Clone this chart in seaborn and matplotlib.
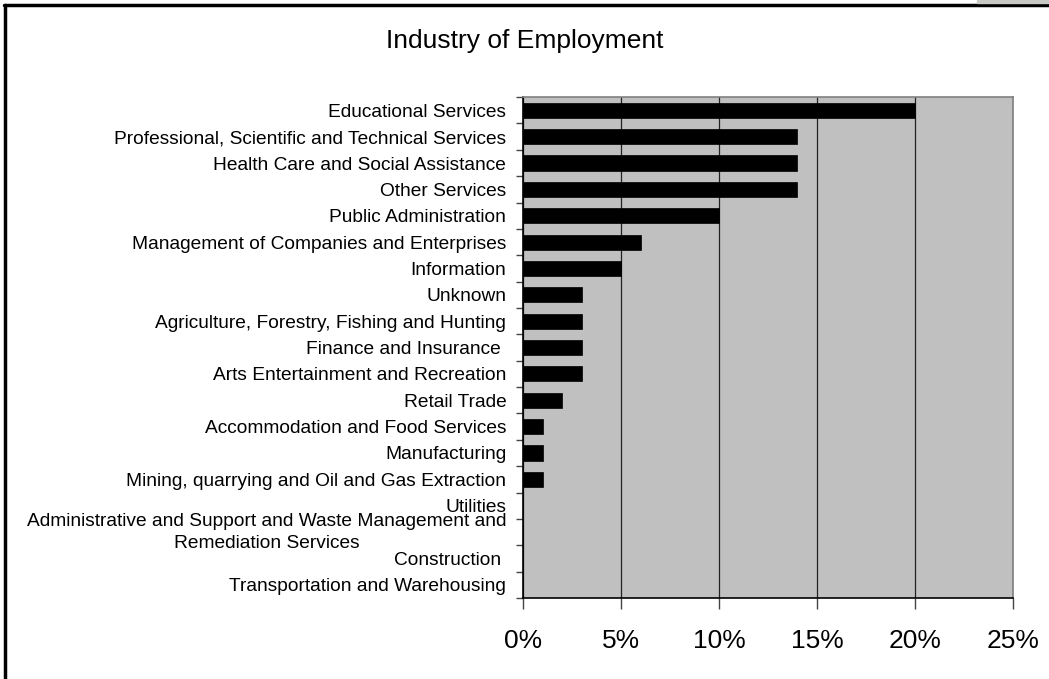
import matplotlib
matplotlib.use("Agg")
import matplotlib.pyplot as plt
import seaborn as sns
import numpy as np
import pandas as pd
from matplotlib.ticker import FixedLocator, FuncFormatter
from matplotlib.patches import Rectangle
from matplotlib.lines import Line2D
from matplotlib.transforms import ScaledTranslation

categories = [
    "Educational Services",
    "Professional, Scientific and Technical Services",
    "Health Care and Social Assistance",
    "Other Services",
    "Public Administration",
    "Management of Companies and Enterprises",
    "Information",
    "Unknown",
    "Agriculture, Forestry, Fishing and Hunting",
    "Finance and Insurance ",
    "Arts Entertainment and Recreation",
    "Retail Trade",
    "Accommodation and Food Services",
    "Manufacturing",
    "Mining, quarrying and Oil and Gas Extraction",
    "Utilities",
    "Administrative and Support and Waste Management and\nRemediation Services",
    "Construction ",
    "Transportation and Warehousing",
]
values = [20, 14, 14, 14, 10, 6, 5, 3, 3, 3, 3, 2, 1, 1, 1, 0, 0, 0, 0]
x_ticks = [0, 5, 10, 15, 20, 25]
title = "Industry of Employment"

sns.set_theme(style="white")
plt.rcParams["font.family"] = ["Liberation Sans", "DejaVu Sans"]

df = pd.DataFrame({"industry": categories, "pct": values})

fig = plt.figure(figsize=(10.49, 6.79), dpi=100)
ax = fig.add_axes([0.4986, 0.1193, 0.4671, 0.7377])
ax.set_facecolor("#C0C0C0")

sns.barplot(data=df, x="pct", y="industry", orient="h", color="black",
            width=0.57, ax=ax, saturation=1, edgecolor="black", linewidth=0.5, zorder=3)

ax.set_xlim(0, 25)
ax.set_xticks(x_ticks)
ax.xaxis.set_major_formatter(FuncFormatter(lambda v, p: f"{v:.0f}%"))
ax.grid(axis="x", color="#222222", lw=0.9, zorder=1)
ax.grid(axis="y", visible=False)
ax.set_axisbelow(True)

n = len(categories)
ax.set_ylim(n - 0.5, -0.5)
ax.yaxis.set_minor_locator(FixedLocator(np.arange(-0.5, n, 1.0)))
ax.tick_params(axis="y", which="major", length=0, pad=12, labelsize=13.8, labelcolor="black")
for lab in ax.get_yticklabels():
    lab.set_multialignment("center")
    if "\n" in lab.get_text():
        lab.set_linespacing(1.45)
        lab.set_transform(lab.get_transform() + ScaledTranslation(0, 0.045, fig.dpi_scale_trans))
ax.tick_params(axis="y", which="minor", length=5, width=1, color="#444444", left=True)
ax.tick_params(axis="x", which="major", length=8, width=1, color="#444444", bottom=True,
               pad=14, labelsize=19, labelcolor="black")

ax.set_xlabel("")
ax.set_ylabel("")

for side in ["left", "bottom"]:
    ax.spines[side].set_color("black")
    ax.spines[side].set_linewidth(1.2)
for side in ["top", "right"]:
    ax.spines[side].set_color("#808080")
    ax.spines[side].set_linewidth(1.2)
    ax.spines[side].set_visible(True)

fig.text(0.5, 1 - 41 / 679, title, ha="center", va="center", fontsize=19, color="black")

# figure frame lines (top and left) and gray patch
fig.add_artist(Line2D([4 / 1049, 1], [1 - 5 / 679, 1 - 5 / 679], color="black", lw=2.5,
                      transform=fig.transFigure))
fig.add_artist(Line2D([5 / 1049, 5 / 1049], [0, 1 - 5 / 679], color="black", lw=2.5,
                      transform=fig.transFigure))
fig.add_artist(Rectangle((977 / 1049, 1 - 3 / 679), 72 / 1049, 3 / 679, color="#C8C8C4",
                         transform=fig.transFigure, zorder=5))

fig.savefig("out.png", dpi=100, facecolor="white")
